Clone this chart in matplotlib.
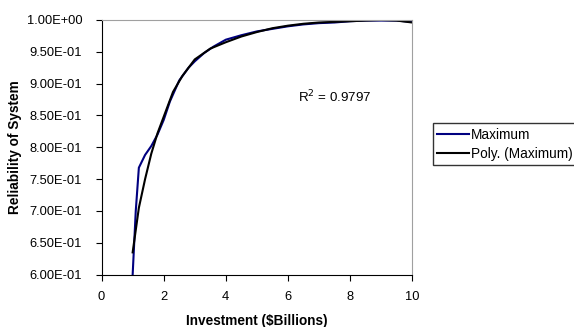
import matplotlib
matplotlib.use('Agg')
import matplotlib.pyplot as plt
from matplotlib.ticker import FormatStrFormatter

plt.rcParams['font.family'] = ['Liberation Sans', 'DejaVu Sans']

# Maximum reliability achieved per investment level
max_x = [1.0, 1.1, 1.2, 1.4, 1.6, 1.8, 2.0, 2.2, 2.5, 2.8, 3.0, 3.3, 3.6, 4.0, 4.5,
         5.0, 5.5, 6.0, 6.5, 7.0, 7.5, 8.0, 8.5, 9.0, 9.5, 10.0]
max_y = [0.600, 0.700, 0.768, 0.788, 0.802, 0.820, 0.843, 0.872, 0.905, 0.925, 0.935,
         0.948, 0.958, 0.969, 0.976, 0.982, 0.986, 0.990, 0.993, 0.995, 0.996, 0.998,
         0.999, 0.999, 0.999, 0.997]

# polynomial trendline of the maximum
poly_x = [1.0, 1.2, 1.4, 1.6, 1.8, 2.0, 2.3, 2.6, 3.0, 3.5, 4.0, 4.5, 5.0, 5.5, 6.0,
          6.5, 7.0, 7.5, 8.0, 8.5, 9.0, 9.5, 10.0]
poly_y = [0.635, 0.705, 0.750, 0.790, 0.822, 0.848, 0.887, 0.912, 0.938, 0.955, 0.965,
          0.974, 0.981, 0.987, 0.991, 0.994, 0.996, 0.997, 0.998, 0.999, 1.000, 0.999, 0.996]

r2_text = 'R$^2$ = 0.9797'

fig = plt.figure(figsize=(5.74, 3.27), dpi=100)
ax = fig.add_axes([0.177, 0.160, 0.541, 0.779])

ax.plot(max_x, max_y, color='#000080', linewidth=1.5, label='Maximum')
ax.plot(poly_x, poly_y, color='black', linewidth=1.5, label='Poly. (Maximum)')

ax.set_xlim(0, 10)
ax.set_ylim(0.6, 1.0)
ax.set_xticks([0, 2, 4, 6, 8, 10])
ax.set_yticks([0.6, 0.65, 0.7, 0.75, 0.8, 0.85, 0.9, 0.95, 1.0])
ax.yaxis.set_major_formatter(FormatStrFormatter('%.2E'))
ax.tick_params(labelsize=9.3, length=4, width=0.8, direction='out')
ax.tick_params(axis='y', pad=10)
ax.tick_params(axis='x', pad=7.5)

ax.spines['top'].set_color('#a0a0a0')
ax.spines['right'].set_color('#a0a0a0')

ax.set_xlabel('Investment ($Billions)', fontsize=9.8, fontweight='bold')
ax.set_ylabel('Reliability of System', fontsize=9.8, fontweight='bold')
ax.xaxis.set_label_coords(0.5, -0.154)
ax.yaxis.set_label_coords(-0.255, 0.5)

ax.text(7.5, 0.879, r2_text, fontsize=9.6, ha='center', va='center')

fig.legend(loc='upper left', bbox_to_anchor=(432.5 / 574, 1 - 123.5 / 327),
           fontsize=9.8, frameon=True, fancybox=False, edgecolor='black',
           handlelength=2.4, handletextpad=0.1, borderpad=0.3, labelspacing=0.4,
           borderaxespad=0)

plt.savefig('out.png', dpi=100)
